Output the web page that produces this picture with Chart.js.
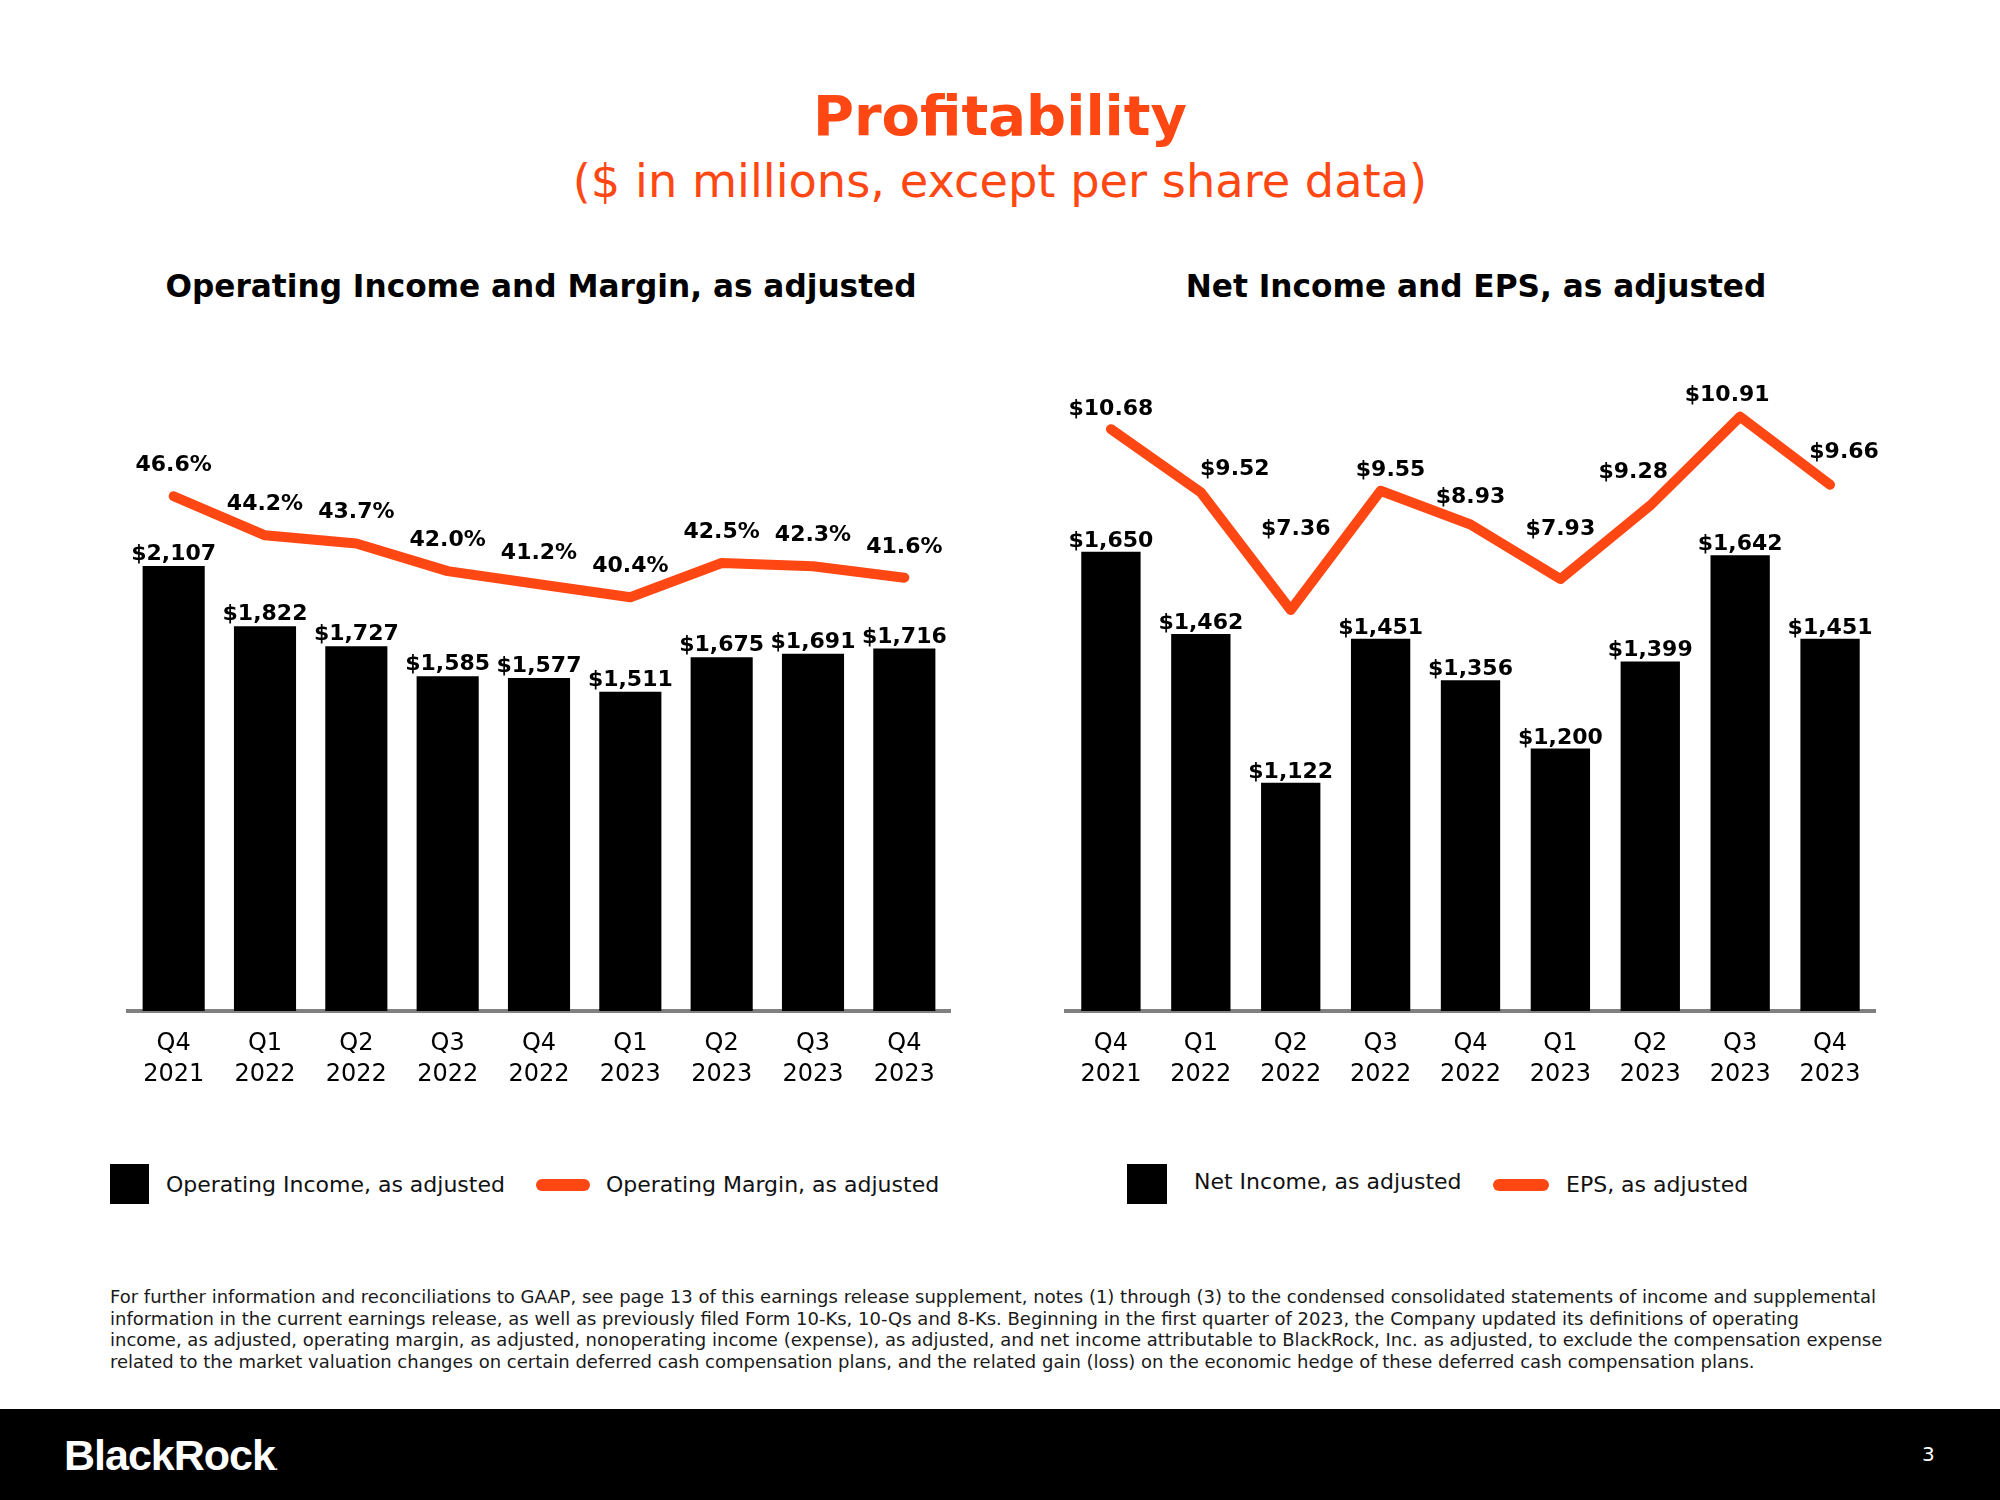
<!DOCTYPE html>
<html>
<head>
<meta charset="utf-8">
<script src="https://cdn.jsdelivr.net/npm/chart.js@4.4.1/dist/chart.umd.min.js"></script>
<style>
  html, body { margin:0; padding:0; background:#fff; }
  body { width:2000px; height:1500px; position:relative; overflow:hidden; font-family:"DejaVu Sans", sans-serif; }
  .abs { position:absolute; white-space:nowrap; }
  #title { left:0; width:2000px; text-align:center; top:88px; font:bold 56px/56px "DejaVu Sans"; color:#FF4713; }
  #subtitle { left:0; width:2000px; text-align:center; top:158px; font:46.3px/46px "DejaVu Sans"; color:#FF4713; }
  .sect { top:271px; font:bold 31.2px/31px "DejaVu Sans"; color:#000; transform:translateX(-50%); }
  canvas { position:absolute; }
  .sq { position:absolute; background:#000; }
  .pill { position:absolute; background:#FF4713; border-radius:6px; }
  .leg { position:absolute; font:22px/22px "DejaVu Sans"; color:#111; white-space:nowrap; }
  #foot { left:110px; top:1286px; font:18px/21.5px "DejaVu Sans"; color:#1a1a1a; }
  #bar { left:0; top:1409px; width:2000px; height:91px; background:#000; }
  #logo { left:64px; top:1434px; font:bold 43px/43px "Liberation Sans"; color:#fff; letter-spacing:-1px; }
  #page { left:1922px; top:1444px; font:20px/20px "DejaVu Sans"; color:#fff; }
</style>
</head>
<body>
<div id="title" class="abs">Profitability</div>
<div id="subtitle" class="abs">($ in millions, except per share data)</div>
<div class="abs sect" style="left:541px;">Operating Income and Margin, as adjusted</div>
<div class="abs sect" style="left:1476px;">Net Income and EPS, as adjusted</div>

<canvas id="c1" width="880" height="800" style="left:100px; top:300px;"></canvas>
<canvas id="c2" width="880" height="800" style="left:1040px; top:300px;"></canvas>

<div class="sq" style="left:110px; top:1164px; width:39px; height:40px;"></div>
<div class="leg" style="left:166px; top:1174px;">Operating Income, as adjusted</div>
<div class="pill" style="left:536px; top:1179px; width:54px; height:12px;"></div>
<div class="leg" style="left:606px; top:1174px;">Operating Margin, as adjusted</div>

<div class="sq" style="left:1127px; top:1164px; width:40px; height:40px;"></div>
<div class="leg" style="left:1194px; top:1171px;">Net Income, as adjusted</div>
<div class="pill" style="left:1493px; top:1179px; width:56px; height:12px;"></div>
<div class="leg" style="left:1566px; top:1174px;">EPS, as adjusted</div>

<div id="foot" class="abs">For further information and reconciliations to GAAP, see page 13 of this earnings release supplement, notes (1) through (3) to the condensed consolidated statements of income and supplemental<br>information in the current earnings release, as well as previously filed Form 10-Ks, 10-Qs and 8-Ks. Beginning in the first quarter of 2023, the Company updated its definitions of operating<br>income, as adjusted, operating margin, as adjusted, nonoperating income (expense), as adjusted, and net income attributable to BlackRock, Inc. as adjusted, to exclude the compensation expense<br>related to the market valuation changes on certain deferred cash compensation plans, and the related gain (loss) on the economic hedge of these deferred cash compensation plans.</div>

<div id="bar" class="abs"></div>
<div id="logo" class="abs">BlackRock<span style="font-size:10px;">.</span></div>
<div id="page" class="abs">3</div>

<script>
// ---- data ----
const quarters = ['Q4','Q1','Q2','Q3','Q4','Q1','Q2','Q3','Q4'];
const years = ['2021','2022','2022','2022','2022','2023','2023','2023','2023'];
const operatingIncome = [2107, 1822, 1727, 1585, 1577, 1511, 1675, 1691, 1716];
const operatingMargin = [46.6, 44.2, 43.7, 42.0, 41.2, 40.4, 42.5, 42.3, 41.6];
const netIncome = [1650, 1462, 1122, 1451, 1356, 1200, 1399, 1642, 1451];
const eps = [10.68, 9.52, 7.36, 9.55, 8.93, 7.93, 9.28, 10.91, 9.66];

// label placement (pixel offsets, style only)
const epsLabelOffsets = [[0,14],[34,17],[5,75],[10,15],[0,22],[0,44],[-17,27],[-13,16],[14,27]];

const ORANGE = '#FF4713';
const labels = quarters.map((q, i) => [q, years[i]]);
const money = v => '$' + v.toLocaleString('en-US');

function labelPlugin(specs) {
  return {
    id: 'valueLabels',
    afterDatasetsDraw(chart) {
      const ctx = chart.ctx;
      ctx.save();
      ctx.font = 'bold 22px "DejaVu Sans"';
      ctx.fillStyle = '#000';
      ctx.textAlign = 'center';
      ctx.textBaseline = 'alphabetic';
      specs.forEach((spec, di) => {
        const meta = chart.getDatasetMeta(di);
        const data = chart.data.datasets[di].data;
        meta.data.forEach((el, j) => {
          const off = spec.offsets ? spec.offsets[j] : [0, spec.gap];
          ctx.fillText(spec.format(data[j]), el.x + off[0], el.y - off[1]);
        });
      });
      ctx.restore();
    }
  };
}

function makeChart(id, barData, barLabel, barMin, barMax, barPct, lineData, lineLabel, lineMin, lineMax, pad, specs) {
  return new Chart(document.getElementById(id), {
    type: 'bar',
    data: {
      labels: labels,
      datasets: [
        { type: 'bar', label: barLabel, data: barData, yAxisID: 'y', backgroundColor: '#000',
          barPercentage: barPct, categoryPercentage: 1, order: 1 },
        { type: 'line', label: lineLabel, data: lineData, yAxisID: 'y2', borderColor: ORANGE,
          borderWidth: 10, pointRadius: 0, tension: 0, borderCapStyle: 'round', borderJoinStyle: 'round',
          fill: false, order: 0 }
      ]
    },
    options: {
      responsive: false,
      animation: false,
      devicePixelRatio: 1,
      layout: { padding: pad },
      plugins: { legend: { display: false }, tooltip: { enabled: false } },
      scales: {
        x: {
          z: 1,
          grid: { display: false, drawTicks: false },
          border: { display: true, color: '#808080', width: 4 },
          ticks: { color: '#000', font: { family: 'DejaVu Sans', size: 24, lineHeight: 1.27 }, padding: 18, maxRotation: 0, autoSkip: false },
          afterFit: s => { s.height = 89; }
        },
        y: { display: false, min: barMin, max: barMax },
        y2: { display: false, position: 'right', min: lineMin, max: lineMax }
      }
    },
    plugins: [labelPlugin(specs)]
  });
}

makeChart('c1', operatingIncome, 'Operating Income, as adjusted', 0, 3314, 0.68,
  operatingMargin, 'Operating Margin, as adjusted', 15, 57.97,
  { left: 28, right: 30, top: 11, bottom: 0 },
  [ { format: money, gap: 6 }, { format: v => v.toFixed(1) + '%', gap: 25 } ]);

makeChart('c2', netIncome, 'Net Income, as adjusted', 600, 2200, 0.66,
  eps, 'EPS, as adjusted', 0, 12.85,
  { left: 26, right: 45, top: 11, bottom: 0 },
  [ { format: money, gap: 5 }, { format: v => '$' + v.toFixed(2), offsets: epsLabelOffsets } ]);
</script>
</body>
</html>
